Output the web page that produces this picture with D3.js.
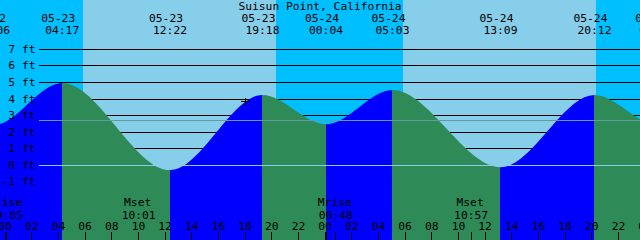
<!DOCTYPE html>
<html>
<head>
  <meta charset="UTF-8" />
  <title>Suisun Point, California</title>
  <script src="https://d3js.org/d3.v7.min.js"></script>
  <style>
    body {
      margin: 0;
      background: #fff;
    }
    svg {
      display: block;
    }
    text {
      font-family: "DejaVu Sans Mono", monospace;
      font-size: 11.3px;
      fill: #000;
    }
  </style>
</head>
<body>
  <div id="chart"></div>
  <script>
    const stationName = "Suisun Point, California";

    // tide extremes (first and last ones lie just outside the view)
    const tideTimes = ["05-22 18:25", "05-22 23:06", "05-23 04:17", "05-23 12:22", "05-23 19:18",
                       "05-24 00:04", "05-24 05:03", "05-24 13:09", "05-24 20:12", "05-25 00:50", "05-25 05:50"];
    const tideLevels = [4.3, 2.42, 4.98, -0.28, 4.25, 2.48, 4.55, -0.11, 4.25, 2.5, 4.3];

    const sunriseTimes = ["05-23 05:52", "05-24 05:51"];
    const sunsetTimes = ["05-23 20:20", "05-24 20:20"];

    const moonNames = ["Mrise", "Mset", "Mrise", "Mset"];
    const moonTimes = ["05-23 00:05", "05-23 10:01", "05-24 00:48", "05-24 10:57"];

    const levelTicks = [-1, 0, 1, 2, 3, 4, 5, 6, 7];
    const meanLevel = 2.71;
    const datumLevel = 0;

    const nowTime = "05-23 18:00";
    const nowLevel = 3.83;

    const viewStart = "05-22 23:37";
    const viewHours = 48;

    const W = 640, H = 240;
    const colors = {
      night: "#00bfff",
      day: "#87ceeb",
      flood: "#0000ff",
      ebb: "#2e8b57",
      msl: "#5f9ea0",
      datum: "#87ceeb"
    };

    const parse = d3.utcParse("%m-%d %H:%M");
    const fmtDate = d3.utcFormat("%m-%d");
    const fmtTime = d3.utcFormat("%H:%M");
    const fmtHour = d3.utcFormat("%H");

    const t0 = parse(viewStart);
    const t1 = d3.utcHour.offset(t0, viewHours);

    const x = d3.scaleUtc().domain([t0, t1]).range([0, W]);
    const y = d3.scaleLinear().domain([0, 7]).range([165.4, 49.41]);
    const px = v => Math.floor(v) + 0.5;

    const tides = tideTimes.map((t, i) => ({ time: parse(t), level: tideLevels[i] }));

    const svg = d3.select("#chart")
      .append("svg")
      .attr("width", W)
      .attr("height", H);

    // sky: night everywhere, day between sunrise and sunset
    svg.append("rect")
      .attr("width", W).attr("height", H)
      .attr("fill", colors.night);

    svg.selectAll(".day")
      .data(sunriseTimes.map((s, i) => [parse(s), parse(sunsetTimes[i])]))
      .enter()
      .append("rect")
      .attr("class", "day")
      .attr("x", d => x(d[0]))
      .attr("width", d => x(d[1]) - x(d[0]))
      .attr("y", 0)
      .attr("height", H)
      .attr("fill", colors.day)
      .attr("shape-rendering", "crispEdges");

    // depth lines, behind the water
    svg.selectAll(".grid")
      .data(levelTicks)
      .enter()
      .append("line")
      .attr("class", "grid")
      .attr("x1", 39).attr("x2", W)
      .attr("y1", d => px(y(d))).attr("y2", d => px(y(d)))
      .attr("stroke", "#000")
      .attr("shape-rendering", "crispEdges");

    // water
    const area = d3.area()
      .x(d => x(d.time))
      .y0(H)
      .y1(d => y(d.level))
      .curve(d3.curveMonotoneX);

    svg.append("clipPath")
      .attr("id", "water")
      .append("path")
      .attr("d", area(tides));

    const segments = d3.pairs(tides);
    svg.append("g")
      .attr("clip-path", "url(#water)")
      .selectAll("rect")
      .data(segments)
      .enter()
      .append("rect")
      .attr("x", d => x(d[0].time))
      .attr("width", d => x(d[1].time) - x(d[0].time))
      .attr("y", 0)
      .attr("height", H)
      .attr("fill", d => d[1].level > d[0].level ? colors.flood : colors.ebb)
      .attr("shape-rendering", "crispEdges");

    // datum and mean level lines
    svg.append("line")
      .attr("x1", 39).attr("x2", W)
      .attr("y1", px(y(datumLevel))).attr("y2", px(y(datumLevel)))
      .attr("stroke", colors.datum)
      .attr("shape-rendering", "crispEdges");

    svg.append("line")
      .attr("x1", 39).attr("x2", W)
      .attr("y1", px(y(meanLevel))).attr("y2", px(y(meanLevel)))
      .attr("stroke", colors.msl)
      .attr("shape-rendering", "crispEdges");

    // level labels
    svg.selectAll(".lvl")
      .data(levelTicks)
      .enter()
      .append("text")
      .attr("class", "lvl")
      .attr("x", 35.5)
      .attr("y", d => Math.floor(y(d)) + 4.3)
      .attr("text-anchor", "end")
      .text(d => d + " ft");

    // title
    svg.append("text")
      .attr("x", W / 2)
      .attr("y", 9.5)
      .attr("text-anchor", "middle")
      .text(stationName);

    // tide event labels
    const ev = svg.selectAll(".ev")
      .data(tides)
      .enter()
      .append("g")
      .attr("class", "ev");

    ev.append("text")
      .attr("x", d => x(d.time) - 4)
      .attr("y", 21.5)
      .attr("text-anchor", "middle")
      .text(d => fmtDate(d.time));

    ev.append("text")
      .attr("x", d => x(d.time))
      .attr("y", 33.5)
      .attr("text-anchor", "middle")
      .text(d => fmtTime(d.time));

    // moon labels
    const moon = moonTimes.map((t, i) => ({ time: parse(t), name: moonNames[i] }));

    const mv = svg.selectAll(".moon")
      .data(moon)
      .enter()
      .append("g")
      .attr("class", "moon");

    mv.append("text")
      .attr("x", d => x(d.time) - 1)
      .attr("y", 206)
      .attr("text-anchor", "middle")
      .text(d => d.name);

    mv.append("text")
      .attr("x", d => x(d.time))
      .attr("y", 218.5)
      .attr("text-anchor", "middle")
      .text(d => fmtTime(d.time));

    // hour axis
    const hours = d3.utcHour.every(2).range(d3.utcHour.offset(t0, -2), d3.utcHour.offset(t1, 2));

    svg.selectAll(".hr")
      .data(hours)
      .enter()
      .append("text")
      .attr("class", "hr")
      .attr("x", d => x(d))
      .attr("y", 230)
      .attr("text-anchor", "middle")
      .text(d => fmtHour(d));

    svg.selectAll(".tick")
      .data(hours.concat(moon.map(d => d.time)))
      .enter()
      .append("rect")
      .attr("class", "tick")
      .attr("x", d => Math.floor(x(d)))
      .attr("width", d => d.getUTCHours() === 0 && d.getUTCMinutes() === 0 ? 2 : 1)
      .attr("y", 232)
      .attr("height", 8)
      .attr("fill", "#000")
      .attr("shape-rendering", "crispEdges");

    // current time mark
    const nx = x(parse(nowTime));
    const ny = y(nowLevel);
    svg.append("path")
      .attr("d", `M${nx - 4.5},${px(ny)}H${nx + 4.5}M${px(nx)},${ny - 4}V${ny + 4}`)
      .attr("stroke", "#000")
      .attr("fill", "none")
      .attr("shape-rendering", "crispEdges");
  </script>
</body>
</html>
